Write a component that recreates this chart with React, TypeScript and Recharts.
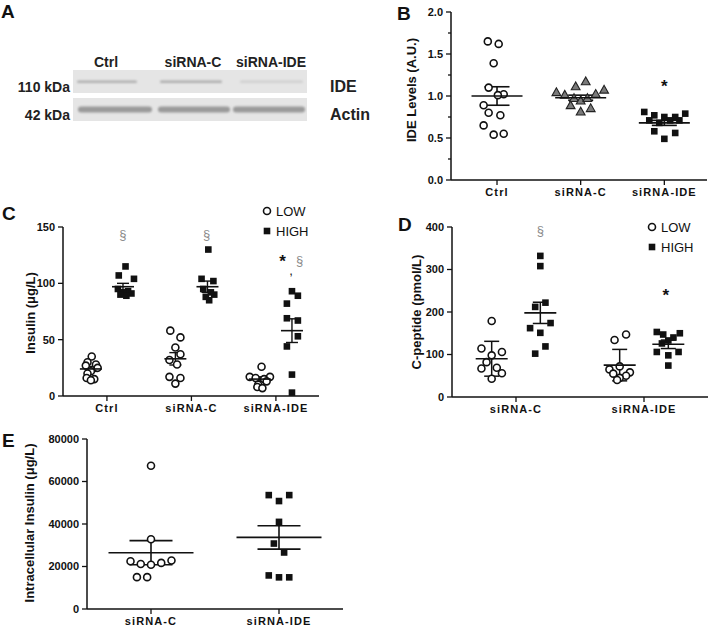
import React from "react";
import { ScatterChart, Scatter, XAxis, YAxis, ErrorBar } from "recharts";

const FONT = '"Liberation Sans", Arial, sans-serif';
const INK = "#111";

// ---- panel A (western blot) ----
const blotLanes = ["Ctrl", "siRNA-C", "siRNA-IDE"];
const blotRows = ["IDE", "Actin"];
const blotSizes = ["110 kDa", "42 kDa"];

// ---- panel B: IDE levels ----
const bCategories = ["Ctrl", "siRNA-C", "siRNA-IDE"];
const bCtrl = [1.65, 1.62, 1.39, 1.1, 1.02, 1.01, 0.89, 0.8, 0.77, 0.65, 0.54, 0.55];
const bCtrlJit = [-0.11, 0.02, -0.04, -0.1, 0.08, 0.01, -0.16, -0.1, 0.04, -0.16, -0.04, 0.08];
const bSiC = [1.04, 1.01, 1.11, 1.17, 1.02, 1.07, 0.885, 0.81, 0.85, 0.97, 0.94, 0.97];
const bSiCJit = [-0.29, -0.19, -0.06, 0.06, 0.18, 0.28, -0.12, 0, 0.12, -0.08, 0, 0.08];
const bSiIDE = [0.81, 0.77, 0.75, 0.75, 0.79, 0.71, 0.68, 0.71, 0.71, 0.58, 0.56, 0.49];
const bSiIDEJit = [-0.24, -0.12, 0, 0.13, 0.25, -0.18, -0.06, 0.07, 0.18, -0.12, 0.13, 0];
const bMeans = [1.0, 0.98, 0.68];
const bSem = [0.11, 0.03, 0.03];
const bYTicks = [0, 0.25, 0.5, 0.75, 1, 1.25, 1.5, 1.75, 2];
const bNotes = [{ x: 2, y: 1.11, text: "*" }];

// ---- panel C: secreted insulin ----
const cCategories = ["Ctrl", "siRNA-C", "siRNA-IDE"];
const cCtrlLow = [35, 30, 28, 27, 25, 22, 20, 16, 15, 14];
const cCtrlLowJit = [0.01, -0.04, 0.06, -0.06, 0.08, 0, -0.04, -0.05, 0.04, 0];
const cCtrlHigh = [115, 107, 104, 95, 93, 92, 91, 90, 89];
const cCtrlHighJit = [0.03, -0.05, 0.13, -0.06, 0.06, 0, 0.1, -0.03, 0.04];
const cSiCLow = [58, 52, 43, 37, 32, 28, 17, 16, 11];
const cSiCLowJit = [-0.06, 0.06, 0, 0.06, -0.07, 0.02, -0.07, 0.06, 0];
const cSiCHigh = [130, 104, 102, 95, 92, 90, 88, 85];
const cSiCHighJit = [0.01, -0.07, 0.07, -0.05, 0.04, 0.08, -0.02, 0.02];
const cSiIDELow = [26, 17, 17, 16, 15, 13, 10, 8, 7];
const cSiIDELowJit = [0.02, -0.12, 0.12, -0.05, 0.05, 0.08, -0.02, -0.03, 0.03];
const cSiIDEHigh = [93, 89, 82, 69, 67, 53, 44, 19, 3];
const cSiIDEHighJit = [0, 0.07, -0.06, -0.06, 0.07, 0.07, -0.06, 0, 0];
const cLowMeans = [24, 33, 15];
const cLowSem = [2.2, 5.5, 2];
const cHighMeans = [97, 97, 58];
const cHighSem = [3, 5, 10.5];
const cYTicks = [0, 50, 100, 150];
const cNotes = [
  { x: 0.19, y: 143, text: "§" },
  { x: 1.18, y: 143, text: "§" },
  { x: 2.08, y: 119, text: "*" },
  { x: 2.18, y: 111, text: "," },
  { x: 2.28, y: 120, text: "§" },
];

// ---- panel D: C-peptide ----
const dCategories = ["siRNA-C", "siRNA-IDE"];
const dSiCLow = [179, 114, 106, 98, 82, 69, 67, 56, 43];
const dSiCLowJit = [0, -0.08, 0.08, 0, -0.04, 0.04, -0.08, 0.08, 0];
const dSiCHigh = [332, 308, 222, 212, 174, 162, 151, 119, 102];
const dSiCHighJit = [0, 0, 0.04, -0.04, 0.08, -0.08, 0, 0.04, -0.04];
const dSiIDELow = [147, 134, 72, 65, 58, 55, 50, 45, 40];
const dSiIDELowJit = [0.05, -0.04, 0, -0.08, 0.08, -0.05, 0.05, 0, -0.02];
const dSiIDEHigh = [153, 150, 147, 140, 133, 126, 106, 106, 98, 74];
const dSiIDEHighJit = [-0.09, 0.09, -0.04, 0.04, 0, -0.05, -0.09, 0.08, 0, 0];
const dLowMeans = [90, 75];
const dLowErr = [41, 37];
const dHighMeans = [198, 124];
const dHighErr = [25, 10];
const dYTicks = [0, 100, 200, 300, 400];
const dNotes = [
  { x: 0.19, y: 392, text: "§" },
  { x: 1.17, y: 239, text: "*" },
];

// ---- panel E: intracellular insulin ----
const eCategories = ["siRNA-C", "siRNA-IDE"];
const eSiC = [67400, 32800, 22800, 22500, 21700, 21200, 20800, 15000, 15000];
const eSiCJit = [0, 0, 0.16, -0.16, 0.08, -0.08, 0, -0.11, -0.03];
const eSiIDE = [53600, 50800, 53600, 41000, 30800, 26600, 15800, 14900, 14900];
const eSiIDEJit = [-0.08, 0, 0.08, 0, -0.04, 0.04, -0.08, 0, 0.08];
const eMeans = [26500, 33700];
const eSem = [5700, 5500];
const eYTicks = [0, 20000, 40000, 60000, 80000];

const LOW_OFF = -0.19;
const HIGH_OFF = 0.19;

const pts = (center: number, values: number[], jitter: number[]) =>
  values.map((y, i) => ({ x: center + jitter[i], y }));
const stats = (offset: number, means: number[], errs: number[]) =>
  means.map((y, i) => ({ x: i + offset, y, err: errs[i] }));

// marker shapes
const Circle = (p: any) => (
  <circle cx={p.cx} cy={p.cy} r={3.5} fill="#fff" stroke={INK} strokeWidth={1.6} />
);
const Square = (p: any) => (
  <rect x={p.cx - 3.3} y={p.cy - 3.3} width={6.6} height={6.6} fill={INK} />
);
const Triangle = (p: any) => (
  <polygon
    points={`${p.cx},${p.cy - 4.8} ${p.cx - 4.4},${p.cy + 3} ${p.cx + 4.4},${p.cy + 3}`}
    fill="#7a7a7a"
    stroke="#222"
    strokeWidth={1.1}
  />
);
const meanLine = (half: number) => (p: any) => (
  <line x1={p.cx - half} x2={p.cx + half} y1={p.cy} y2={p.cy} stroke={INK} strokeWidth={1.6} />
);
const Note = (p: any) => {
  const t = p.payload.text;
  const star = t === "*";
  return (
    <text
      x={p.cx}
      y={p.cy}
      textAnchor="middle"
      dominantBaseline="central"
      fontFamily={FONT}
      fontSize={star ? 17 : 13}
      fontWeight={star ? "bold" : "normal"}
      fill={t === "§" ? "#8a8a8a" : INK}
    >
      {t}
    </text>
  );
};

const TS = 5;
const TM = 3;
const yTick = (isMajor: (v: number) => boolean, fmt: (v: number) => string) => (p: any) => {
  const v = p.payload.value;
  const ax = p.x + TS + TM;
  const major = isMajor(v);
  return (
    <g>
      <line x1={ax - (major ? 5 : 3)} x2={ax} y1={p.y} y2={p.y} stroke={INK} strokeWidth={1.3} />
      {major && (
        <text x={p.x} y={p.y} dy="0.35em" textAnchor="end" fontFamily={FONT} fontSize={11} fontWeight="bold" fill={INK}>
          {fmt(v)}
        </text>
      )}
    </g>
  );
};

const xTickStyle = { fontFamily: FONT, fontSize: 11, fontWeight: "bold", fill: INK, letterSpacing: 1.1 };

function Blot() {
  const idePos = [[77, 137], [160, 222], [240, 303]];
  const ideTone = ["#b0b0b0", "#adadad", "#d0d0d0"];
  const actinPos = [[78, 152], [158, 230], [233, 305]];
  return (
    <svg width={400} height={170} style={{ position: "absolute", left: 0, top: 0, overflow: "visible" }}>
      <defs>
        <filter id="soft" x="-5%" y="-80%" width="110%" height="260%">
          <feGaussianBlur stdDeviation="0.9" />
        </filter>
      </defs>
      {blotLanes.map((l, i) => (
        <text key={l} x={[106, 193, 271][i]} y={67} textAnchor="middle" fontFamily={FONT} fontSize={14} fontWeight="bold" fill="#222">
          {l}
        </text>
      ))}
      <rect x={73} y={70} width={234} height={23} fill="#e5e5e5" />
      <rect x={73} y={98} width={234} height={23} fill="#e5e5e5" />
      {idePos.map(([a, b], i) => (
        <rect key={i} x={a} y={80.5} width={b - a} height={2.6} rx={1.3} fill={ideTone[i]} filter="url(#soft)" />
      ))}
      {actinPos.map(([a, b], i) => (
        <rect key={i} x={a} y={106.5} width={b - a} height={6} rx={3} fill="#9a9a9a" filter="url(#soft)" />
      ))}
      {blotSizes.map((s, i) => (
        <text key={s} x={70} y={[92, 120][i]} textAnchor="end" fontFamily={FONT} fontSize={14} fontWeight="bold" fill="#222">
          {s}
        </text>
      ))}
      {blotRows.map((s, i) => (
        <text key={s} x={330} y={[92, 120][i]} fontFamily={FONT} fontSize={16} fontWeight="bold" fill="#222">
          {s}
        </text>
      ))}
    </svg>
  );
}

function Overlay() {
  const letters = [
    ["A", 1, 18],
    ["B", 397, 20],
    ["C", 2, 220],
    ["D", 398, 231],
    ["E", 2, 447],
  ];
  const titles = [
    ["IDE Levels (A.U.)", 411, 90],
    ["Insulin (μg/L)", 30, 313],
    ["C-peptide (pmol/L)", 416, 312],
    ["Intracellular Insulin (μg/L)", 29, 523],
  ];
  const legends = [
    [267, 211],
    [652, 227],
  ];
  return (
    <svg width={708} height={632} style={{ position: "absolute", left: 0, top: 0, pointerEvents: "none" }}>
      {letters.map(([t, x, y]: any) => (
        <text key={t} x={x} y={y} fontFamily={FONT} fontSize={19} fontWeight="bold" fill={INK}>
          {t}
        </text>
      ))}
      {titles.map(([t, x, y]: any) => (
        <text
          key={t}
          x={x}
          y={y}
          transform={`rotate(-90 ${x} ${y})`}
          textAnchor="middle"
          dominantBaseline="central"
          fontFamily={FONT}
          fontSize={13}
          fontWeight="bold"
          fill={INK}
        >
          {t}
        </text>
      ))}
      {legends.map(([x, y], i) => (
        <g key={i}>
          <circle cx={x} cy={y} r={3.5} fill="#fff" stroke={INK} strokeWidth={1.6} />
          <text x={x + 9} y={y + 4.6} fontFamily={FONT} fontSize={13} fill={INK}>
            LOW
          </text>
          <rect x={x - 3.3} y={y + 20 - 3.3} width={6.6} height={6.6} fill={INK} />
          <text x={x + 9} y={y + 24.6} fontFamily={FONT} fontSize={13} fill={INK}>
            HIGH
          </text>
        </g>
      ))}
    </svg>
  );
}

const axisLine = { stroke: INK, strokeWidth: 1.5 };
const xTickLine = { stroke: INK, strokeWidth: 1.3 };

export default function App() {
  const bFmt = (v: number) => v.toFixed(1);
  const intFmt = (v: number) => String(v);
  const all = () => true;
  return (
    <div style={{ position: "absolute", left: 0, top: 0, width: 708, height: 632, background: "#fff", fontFamily: FONT }}>
      <Blot />

      {/* B */}
      <div style={{ position: "absolute", left: 354, top: 0 }}>
        <ScatterChart width={354} height={205} margin={{ top: 12, right: 1, bottom: 5, left: 0 }}>
          <XAxis
            type="number"
            dataKey="x"
            domain={[-0.55, 2.51]}
            ticks={[0, 1, 2]}
            interval={0}
            tickFormatter={(v: number) => bCategories[v]}
            axisLine={axisLine}
            tickLine={xTickLine}
            tickSize={TS}
            tickMargin={TM}
            tick={xTickStyle}
            height={20}
            allowDataOverflow
          />
          <YAxis
            type="number"
            dataKey="y"
            domain={[0, 2]}
            ticks={bYTicks}
            interval={0}
            width={97}
            axisLine={axisLine}
            tickLine={false}
            tickSize={TS}
            tickMargin={TM}
            tick={yTick((v) => Math.abs(v * 2 - Math.round(v * 2)) < 1e-6, bFmt)}
          />
          <Scatter data={pts(0, bCtrl, bCtrlJit)} shape={Circle} isAnimationActive={false} />
          <Scatter data={pts(1, bSiC, bSiCJit)} shape={Triangle} isAnimationActive={false} />
          <Scatter data={pts(2, bSiIDE, bSiIDEJit)} shape={Square} isAnimationActive={false} />
          <Scatter data={stats(0, bMeans, bSem)} shape={meanLine(25.5)} isAnimationActive={false}>
            <ErrorBar dataKey="err" direction="y" width={12.5} stroke={INK} strokeWidth={1.6} isAnimationActive={false} />
          </Scatter>
          <Scatter data={bNotes} shape={Note} isAnimationActive={false} />
        </ScatterChart>
      </div>

      {/* C */}
      <div style={{ position: "absolute", left: 0, top: 200 }}>
        <ScatterChart width={330} height={225} margin={{ top: 27, right: 11, bottom: 9, left: 0 }}>
          <XAxis
            type="number"
            dataKey="x"
            domain={[-0.52, 2.51]}
            ticks={[0, 1, 2]}
            interval={0}
            tickFormatter={(v: number) => cCategories[v]}
            axisLine={axisLine}
            tickLine={xTickLine}
            tickSize={TS}
            tickMargin={TM}
            tick={xTickStyle}
            height={20}
            allowDataOverflow
          />
          <YAxis
            type="number"
            dataKey="y"
            domain={[0, 150]}
            ticks={cYTicks}
            interval={0}
            width={63}
            axisLine={axisLine}
            tickLine={false}
            tickSize={TS}
            tickMargin={TM}
            tick={yTick(all, intFmt)}
          />
          <Scatter data={pts(0 + LOW_OFF, cCtrlLow, cCtrlLowJit)} shape={Circle} isAnimationActive={false} />
          <Scatter data={pts(0 + HIGH_OFF, cCtrlHigh, cCtrlHighJit)} shape={Square} isAnimationActive={false} />
          <Scatter data={pts(1 + LOW_OFF, cSiCLow, cSiCLowJit)} shape={Circle} isAnimationActive={false} />
          <Scatter data={pts(1 + HIGH_OFF, cSiCHigh, cSiCHighJit)} shape={Square} isAnimationActive={false} />
          <Scatter data={pts(2 + LOW_OFF, cSiIDELow, cSiIDELowJit)} shape={Circle} isAnimationActive={false} />
          <Scatter data={pts(2 + HIGH_OFF, cSiIDEHigh, cSiIDEHighJit)} shape={Square} isAnimationActive={false} />
          <Scatter data={stats(LOW_OFF, cLowMeans, cLowSem)} shape={meanLine(11)} isAnimationActive={false}>
            <ErrorBar dataKey="err" direction="y" width={6} stroke={INK} strokeWidth={1.4} isAnimationActive={false} />
          </Scatter>
          <Scatter data={stats(HIGH_OFF, cHighMeans, cHighSem)} shape={meanLine(11)} isAnimationActive={false}>
            <ErrorBar dataKey="err" direction="y" width={6} stroke={INK} strokeWidth={1.4} isAnimationActive={false} />
          </Scatter>
          <Scatter data={cNotes} shape={Note} isAnimationActive={false} />
        </ScatterChart>
      </div>

      {/* D */}
      <div style={{ position: "absolute", left: 354, top: 220 }}>
        <ScatterChart width={354} height={202} margin={{ top: 7, right: 0, bottom: 5, left: 0 }}>
          <XAxis
            type="number"
            dataKey="x"
            domain={[-0.5, 1.5]}
            ticks={[0, 1]}
            interval={0}
            tickFormatter={(v: number) => dCategories[v]}
            axisLine={axisLine}
            tickLine={xTickLine}
            tickSize={TS}
            tickMargin={TM}
            tick={xTickStyle}
            height={20}
            allowDataOverflow
          />
          <YAxis
            type="number"
            dataKey="y"
            domain={[0, 400]}
            ticks={dYTicks}
            interval={0}
            width={98}
            axisLine={axisLine}
            tickLine={false}
            tickSize={TS}
            tickMargin={TM}
            tick={yTick(all, intFmt)}
          />
          <Scatter data={pts(0 + LOW_OFF, dSiCLow, dSiCLowJit)} shape={Circle} isAnimationActive={false} />
          <Scatter data={pts(0 + HIGH_OFF, dSiCHigh, dSiCHighJit)} shape={Square} isAnimationActive={false} />
          <Scatter data={pts(1 + LOW_OFF, dSiIDELow, dSiIDELowJit)} shape={Circle} isAnimationActive={false} />
          <Scatter data={pts(1 + HIGH_OFF, dSiIDEHigh, dSiIDEHighJit)} shape={Square} isAnimationActive={false} />
          <Scatter data={stats(LOW_OFF, dLowMeans, dLowErr)} shape={meanLine(16)} isAnimationActive={false}>
            <ErrorBar dataKey="err" direction="y" width={7.5} stroke={INK} strokeWidth={1.5} isAnimationActive={false} />
          </Scatter>
          <Scatter data={stats(HIGH_OFF, dHighMeans, dHighErr)} shape={meanLine(16)} isAnimationActive={false}>
            <ErrorBar dataKey="err" direction="y" width={7.5} stroke={INK} strokeWidth={1.5} isAnimationActive={false} />
          </Scatter>
          <Scatter data={dNotes} shape={Note} isAnimationActive={false} />
        </ScatterChart>
      </div>

      {/* E */}
      <div style={{ position: "absolute", left: 0, top: 430 }}>
        <ScatterChart width={353} height={202} margin={{ top: 9, right: 10, bottom: 3, left: 0 }}>
          <XAxis
            type="number"
            dataKey="x"
            domain={[-0.5, 1.5]}
            ticks={[0, 1]}
            interval={0}
            tickFormatter={(v: number) => eCategories[v]}
            axisLine={axisLine}
            tickLine={xTickLine}
            tickSize={TS}
            tickMargin={TM}
            tick={xTickStyle}
            height={20}
            allowDataOverflow
          />
          <YAxis
            type="number"
            dataKey="y"
            domain={[0, 80000]}
            ticks={eYTicks}
            interval={0}
            width={87}
            axisLine={axisLine}
            tickLine={false}
            tickSize={TS}
            tickMargin={TM}
            tick={yTick(all, intFmt)}
          />
          <Scatter data={pts(0, eSiC, eSiCJit)} shape={Circle} isAnimationActive={false} />
          <Scatter data={pts(1, eSiIDE, eSiIDEJit)} shape={Square} isAnimationActive={false} />
          <Scatter data={stats(0, eMeans, eSem)} shape={meanLine(42.5)} isAnimationActive={false}>
            <ErrorBar dataKey="err" direction="y" width={21.5} stroke={INK} strokeWidth={1.6} isAnimationActive={false} />
          </Scatter>
        </ScatterChart>
      </div>

      <Overlay />
    </div>
  );
}
